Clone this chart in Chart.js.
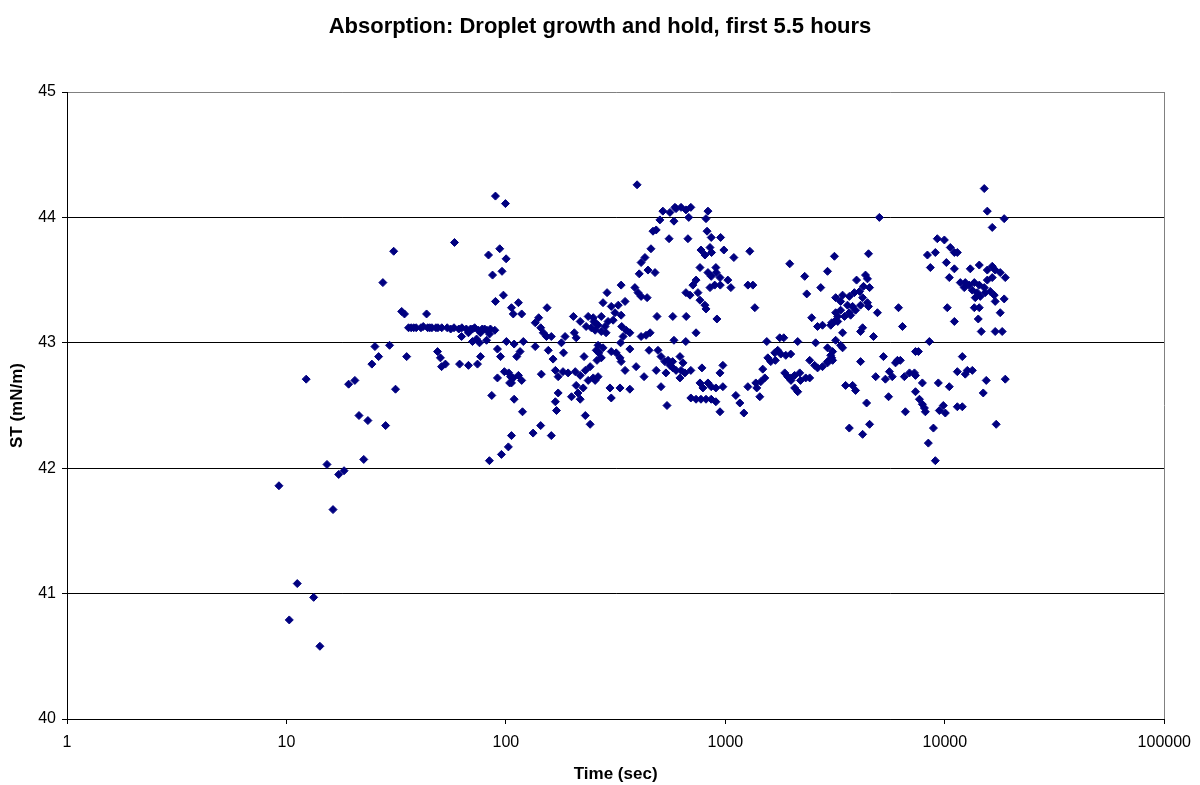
<!DOCTYPE html>
<html lang="en">
<head>
  <meta charset="UTF-8">
  <title>Absorption: Droplet growth and hold</title>
  <script src="https://cdn.jsdelivr.net/npm/chart.js@4.4.0/dist/chart.umd.min.js"></script>
  <style>
    body { margin: 0; background: #fff; }
    canvas { display: block; }
  </style>
</head>
<body>
  <canvas id="chart" width="1200" height="785"></canvas>

  <script>
    // time since droplet formation (s) and surface tension (mN/m), paired by index
    const timeSec = [
      9.24, 10.3, 11.2, 12.3, 13.3, 14.2, 15.3, 16.3, 17.3, 18.3, 19.2, 20.5, 21.4, 22.5, 23.5, 24.5,
      25.3, 26.3, 27.5, 28.3, 29.5, 30.8, 31.4, 33.5, 34.5, 35.3,
      36, 37, 38, 39, 41, 42, 43.5, 44, 45, 46, 48, 49, 51, 54, 56, 58, 61, 63, 66, 69, 72, 75, 78, 82, 85, 89,
      62.8, 67.5, 70.4, 73.5, 76.6, 80, 81.6, 84.2, 70.4, 75.8, 100.5, 109, 48.8, 50.3, 50.9, 53.0, 61.5,
      67.5, 74.2, 76.6, 91.5, 94.5, 112, 98.4, 91.5, 105, 104, 86.2, 109, 106, 102.6, 95.4, 84.1, 89.6,
      99.5, 58.3, 83.3, 93.7, 100.2, 86.9, 96, 97.4, 89.6, 106, 108,
      114, 118, 154, 141, 136, 144, 148, 153, 161, 203, 218, 237, 250, 232, 245, 255, 205, 209, 186, 179,
      120, 116, 136, 156, 183, 164, 227, 258, 260, 168, 173, 182, 192, 207, 218, 230, 242, 145, 103, 108,
      114, 118, 106, 237, 250, 209, 225, 213, 199, 218, 173, 168, 170, 119, 230, 242, 144, 133, 161,
      396, 519, 559, 589, 503, 583, 468, 484, 458, 554, 413, 430, 405, 444, 478, 335, 289, 277, 387, 400,
      413, 440, 302, 325, 349, 335, 314, 252, 272, 263, 283, 292, 308, 286, 272, 255, 337, 353, 367, 342,
      333, 413, 435, 454, 488, 576, 583, 263, 277, 265, 272, 302, 318, 331, 335, 367, 449, 493, 509, 530,
      559, 576, 596, 349, 392, 426, 484, 536, 255, 263, 298, 331, 367, 302, 509, 542,
      596, 628, 661, 696, 681, 833, 816, 675, 825, 862, 951, 774, 807, 851, 865, 984, 1093, 1292, 766, 905,
      833, 862, 908, 945, 1026, 1059, 1266, 1334, 735, 711, 851, 894, 948, 661, 690, 750, 766, 807, 816, 1362,
      663, 915, 735, 660, 548, 575, 621, 641, 628, 621, 654, 696, 782, 974, 945, 766, 790, 833, 862, 905,
      974, 1266, 1376, 1390, 696, 735, 774, 816, 862, 905, 945, 1116, 1164, 1214,
      1964, 2298, 2348, 2920, 3140, 2720, 3180, 2473, 2630, 2770, 3020, 3180, 3140, 1544, 1769, 1845, 2136,
      2578, 2920, 3080, 3180, 1732, 1679, 1788, 1885, 1985, 1561, 1610, 1690, 1480, 2422, 2551, 2630, 2770,
      2920, 3050, 1450, 1512, 1435, 1864, 1923, 1985, 2069, 2181, 2200, 2323, 2422, 2069, 2136, 1990,
      5030, 4490, 3960, 4350, 4440, 4540, 4260, 4090, 3870, 4220, 3670, 3420, 3350, 3600, 3800, 3920, 3670,
      3350, 3250, 3050, 3250, 3490, 3720, 4130, 4440, 4490, 4930, 6150, 6410, 4220, 4130, 4730, 3420, 3350,
      3420, 3020, 3080, 2920, 5250, 6080, 6270, 5960, 4130, 7350, 4840, 5590, 5760, 5360, 6540, 6900, 7270,
      3530, 3800, 3920, 4400, 5540, 6610, 3670, 4540, 4220,
      15120, 15610, 18640, 16440, 9240, 9950, 9050, 8330, 10590, 11050, 11400, 10160, 11050, 8590, 10480,
      13060, 14350, 15610, 16440, 16960, 17880, 18850, 16440, 15610, 15120, 11760, 12390, 12920, 13620,
      14350, 12260, 13340, 14050, 14500, 15270, 16100, 16790, 13760, 16960, 18640, 10260, 13620, 14350,
      17880, 14200, 11050, 14650, 16960, 18250, 8500, 7580, 12010, 11400, 12660, 13340, 12390, 7350, 7900,
      9340, 10480, 15440, 18850, 14960, 7350, 7660, 7900, 8070, 8150, 9440, 9840, 10050, 11400, 12010,
      17140, 8870, 8410, 9050
    ];

    const surfaceTension = [
      41.86, 40.79, 41.08, 42.71, 40.97, 40.58, 42.03, 41.67, 41.95, 41.98, 42.67, 42.70, 42.42, 42.07, 42.38, 42.83,
      42.97, 42.89, 43.48, 42.34, 42.98, 43.73, 42.63, 43.25, 43.23, 42.89,
      43.12, 43.12, 43.12, 43.12, 43.12, 43.13, 43.23, 43.12, 43.12, 43.12, 43.12, 43.12, 43.12, 43.12, 43.11,
      43.12, 43.11, 43.12, 43.11, 43.11, 43.12, 43.10, 43.11, 43.10, 43.11, 43.10,
      43.05, 43.08, 43.11, 43.03, 43.08, 43.11, 43.02, 43.07, 43.01, 43.00, 43.01, 42.99, 42.93, 42.88, 42.81, 42.83, 42.83,
      42.82, 42.83, 42.89, 42.95, 42.89, 42.89, 42.77, 42.72, 42.73, 42.68, 42.58, 42.55, 42.26, 42.17, 42.11, 42.06, 44.17,
      44.11, 43.80, 43.70, 43.75, 43.67, 43.54, 43.57, 43.38, 43.33, 43.28, 43.23,
      43.32, 43.23, 43.28, 43.20, 43.16, 43.12, 43.08, 43.05, 43.05, 43.21, 43.17, 43.21, 43.20, 43.13, 43.12, 43.16, 43.08, 43.04, 43.05, 43.00,
      43.01, 42.93, 42.97, 42.94, 42.92, 42.87, 42.89, 42.94, 42.86, 42.78, 42.73, 42.77, 42.76, 42.77, 42.74, 42.78, 42.81, 42.75, 42.76, 42.72,
      42.74, 42.70, 42.68, 42.70, 42.72, 42.66, 42.64, 42.60, 42.57, 42.55, 42.60, 42.53, 42.46, 42.45, 42.42, 42.35, 42.34, 42.28, 42.26,
      44.26, 44.05, 44.04, 44.08, 43.98, 43.97, 43.89, 43.90, 43.75, 43.83, 43.64, 43.68, 43.55, 43.58, 43.56, 43.46, 43.40, 43.32, 43.44, 43.40,
      43.37, 43.36, 43.29, 43.30, 43.33, 43.22, 43.24, 43.17, 43.21, 43.14, 43.13, 43.17, 43.18, 43.08, 43.09, 43.10, 43.13, 43.10, 43.08, 43.05,
      43.00, 43.05, 43.06, 43.08, 43.21, 43.21, 43.02, 42.98, 42.96, 42.92, 42.88, 42.93, 42.92, 42.88, 42.85, 42.95, 42.94, 42.94, 42.89, 42.85,
      42.82, 42.80, 42.78, 42.78, 42.81, 42.73, 42.78, 42.76, 42.70, 42.73, 42.64, 42.64, 42.63, 42.56, 42.65, 42.50,
      44.07, 44.08, 44.06, 44.08, 44.00, 44.05, 43.99, 43.83, 43.89, 43.84, 43.84, 43.74, 43.70, 43.76, 43.72, 43.74, 43.68, 43.73, 43.60, 43.60,
      43.56, 43.53, 43.56, 43.52, 43.50, 43.44, 43.46, 43.46, 43.50, 43.46, 43.44, 43.46, 43.46, 43.40, 43.38, 43.40, 43.34, 43.30, 43.27, 43.28,
      43.21, 43.19, 43.08, 43.01, 42.86, 42.85, 42.89, 42.84, 42.78, 42.72, 42.76, 42.78, 42.80, 42.82, 42.76, 42.68, 42.64, 42.68, 42.65, 42.64,
      42.65, 42.65, 42.68, 42.64, 42.56, 42.55, 42.55, 42.55, 42.55, 42.53, 42.45, 42.58, 42.52, 42.44,
      43.63, 43.53, 43.39, 43.57, 43.69, 43.44, 43.36, 43.20, 43.13, 43.14, 43.14, 43.24, 43.17, 43.01, 43.04, 43.04, 43.01,
      43.00, 42.96, 42.93, 43.02, 42.94, 42.92, 42.91, 42.90, 42.91, 42.88, 42.85, 42.86, 42.79, 42.86, 42.82, 42.80, 42.81,
      42.85, 42.88, 42.69, 42.72, 42.57, 42.76, 42.73, 42.72, 42.74, 42.76, 42.70, 42.72, 42.72, 42.64, 42.61, 42.70,
      44.00, 43.71, 43.50, 43.54, 43.51, 43.44, 43.45, 43.41, 43.40, 43.36, 43.37, 43.38, 43.33, 43.30, 43.29, 43.26, 43.24,
      43.26, 43.21, 43.16, 43.17, 43.21, 43.22, 43.30, 43.32, 43.29, 43.24, 43.28, 43.13, 43.12, 43.09, 43.05, 43.08, 42.98,
      42.96, 42.90, 42.86, 42.84, 42.89, 42.86, 42.86, 42.84, 42.85, 42.93, 42.73, 42.77, 42.73, 42.71, 42.73, 42.76, 42.76,
      42.66, 42.66, 42.62, 42.52, 42.57, 42.45, 42.32, 42.35, 42.27,
      44.23, 44.05, 43.99, 43.92, 43.83, 43.82, 43.72, 43.70, 43.76, 43.72, 43.72, 43.64, 43.59, 43.60, 43.52,
      43.59, 43.62, 43.58, 43.61, 43.58, 43.56, 43.52, 43.52, 43.50, 43.44, 43.48, 43.48, 43.46, 43.48,
      43.46, 43.44, 43.42, 43.40, 43.37, 43.40, 43.41, 43.38, 43.36, 43.33, 43.35, 43.28, 43.28, 43.28,
      43.24, 43.19, 43.17, 43.09, 43.09, 43.09, 43.01, 42.93, 42.89, 42.77, 42.78, 42.78, 42.75, 42.74, 42.68,
      42.68, 42.65, 42.70, 42.71, 42.60, 42.61, 42.55, 42.51, 42.48, 42.45, 42.46, 42.50, 42.44, 42.49, 42.49,
      42.35, 42.32, 42.20, 42.06
    ];

    const decadeTicks = [1, 10, 100, 1000, 10000, 100000];
    const stRange = [40, 45];

    const FONT = '"Liberation Sans", Arial, sans-serif';

    // gray frame line on the right edge of the plot area
    const plotFrame = {
      id: 'plotFrame',
      beforeDatasetsDraw(chart) {
        const { ctx, chartArea: a } = chart;
        const x = Math.round(a.right) + 0.5;
        ctx.save();
        ctx.strokeStyle = '#808080';
        ctx.lineWidth = 1;
        ctx.beginPath();
        ctx.moveTo(x, a.top);
        ctx.lineTo(x, a.bottom);
        ctx.stroke();
        ctx.restore();
      }
    };

    const points = timeSec.map((t, i) => ({ x: t, y: surfaceTension[i] }));

    new Chart(document.getElementById('chart'), {
      type: 'scatter',
      data: {
        datasets: [{
          data: points,
          pointStyle: 'rectRot',
          pointRadius: 4,
          pointBorderWidth: 1,
          backgroundColor: '#000080',
          borderColor: '#000080'
        }]
      },
      plugins: [plotFrame],
      options: {
        responsive: false,
        animation: false,
        layout: { padding: 0 },
        plugins: {
          legend: { display: false },
          tooltip: { enabled: false },
          title: {
            display: true,
            text: 'Absorption: Droplet growth and hold, first 5.5 hours',
            color: '#000',
            font: { family: FONT, size: 22, weight: 'bold' },
            padding: { top: 14, bottom: 51.6 }
          }
        },
        scales: {
          x: {
            type: 'logarithmic',
            min: decadeTicks[0],
            max: decadeTicks[decadeTicks.length - 1],
            afterBuildTicks: s => { s.ticks = decadeTicks.map(v => ({ value: v })); },
            afterFit: s => { s.height = 66; },
            border: { color: '#000', width: 1 },
            grid: { drawOnChartArea: false, drawTicks: true, tickLength: 5, tickColor: '#000' },
            ticks: {
              color: '#000',
              font: { family: FONT, size: 16 },
              padding: 9,
              autoSkip: false,
              maxRotation: 0,
              callback: v => String(v)
            },
            title: {
              display: true,
              text: 'Time (sec)',
              color: '#000',
              font: { family: FONT, size: 17, weight: 'bold' },
              padding: { top: 0, bottom: 0 }
            }
          },
          y: {
            min: stRange[0],
            max: stRange[1],
            afterFit: s => { s.width = 67; },
            border: { color: '#000', width: 1 },
            grid: {
              color: c => (c.tick && c.tick.value === stRange[1] ? '#808080' : '#000'),
              lineWidth: 1,
              tickLength: 5,
              tickColor: '#000'
            },
            ticks: {
              stepSize: 1,
              color: '#000',
              font: { family: FONT, size: 16 },
              padding: 6
            },
            title: {
              display: true,
              text: 'ST (mN/m)',
              color: '#000',
              font: { family: FONT, size: 17, weight: 'bold' },
              padding: { top: 7, bottom: 0 }
            }
          },
          // empty strip on the right, keeps the plot area off the canvas edge
          yRight: {
            position: 'right',
            display: true,
            afterFit: s => { s.width = 33; },
            border: { display: false },
            grid: { display: false, drawTicks: false },
            ticks: { display: false }
          }
        }
      }
    });
  </script>
</body>
</html>
